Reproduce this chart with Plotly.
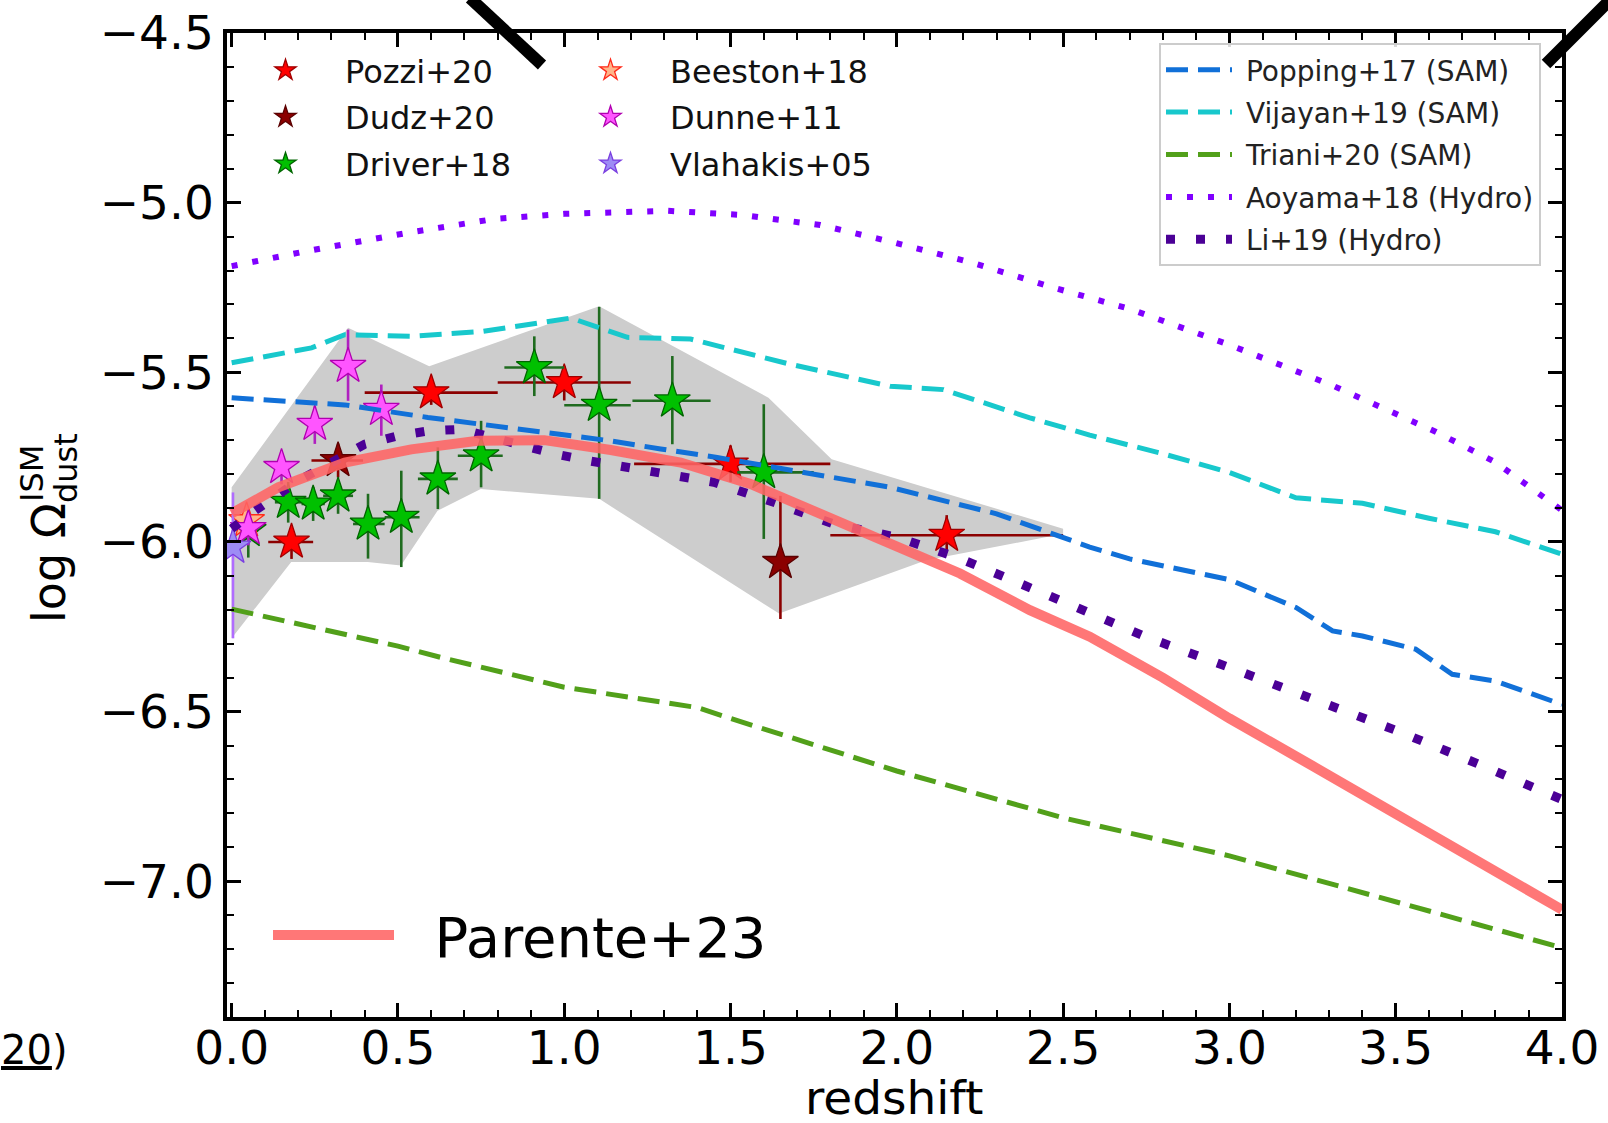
import plotly.graph_objects as go

FONT = "DejaVu Sans"

# ---------------- observational points: redshift, log Omega_dust ----------------
pozzi_z = [0.18, 0.60, 1.00, 1.50, 2.15]
pozzi_y = [-6.00, -5.56, -5.53, -5.77, -5.98]
pozzi_zlo = [0.07, 0.20, 0.20, 0.29, 0.35]
pozzi_zhi = [0.065, 0.20, 0.20, 0.30, 0.35]
pozzi_ylo = [0.05, 0.036, 0.053, 0.053, 0.049]
pozzi_yhi = [0.04, 0.036, 0.049, 0.054, 0.059]

dudz_z = [0.32, 1.65]
dudz_y = [-5.76, -6.06]
dudz_zlo = [0.08, 0.0]
dudz_zhi = [0.075, 0.0]
dudz_ylo = [0.05, 0.167]
dudz_yhi = [0.05, 0.196]

driver_z = [0.05, 0.17, 0.245, 0.32, 0.41, 0.51, 0.62, 0.75, 0.91, 1.105, 1.325, 1.60]
driver_y = [-5.966, -5.883, -5.888, -5.864, -5.947, -5.927, -5.814, -5.746, -5.486, -5.597, -5.584, -5.795]
driver_zlo = [0.03, 0.04, 0.035, 0.045, 0.045, 0.05, 0.06, 0.07, 0.09, 0.105, 0.12, 0.08]
driver_zhi = [0.03, 0.04, 0.035, 0.045, 0.05, 0.055, 0.06, 0.065, 0.09, 0.095, 0.115, 0.15]
driver_ylo = [0.08, 0.06, 0.05, 0.053, 0.102, 0.147, 0.089, 0.093, 0.084, 0.276, 0.128, 0.196]
driver_yhi = [0.05, 0.06, 0.05, 0.045, 0.089, 0.137, 0.093, 0.103, 0.092, 0.29, 0.132, 0.201]

beeston_z = [0.045]
beeston_y = [-5.937]
beeston_yerr = [0.03]

dunne_z = [0.05, 0.15, 0.25, 0.35, 0.45]
dunne_y = [-5.96, -5.78, -5.653, -5.482, -5.609]
dunne_ylo = [0.05, 0.05, 0.058, 0.102, 0.078]
dunne_yhi = [0.05, 0.05, 0.053, 0.108, 0.073]

vlahakis_z = [0.004]
vlahakis_y = [-6.015]
vlahakis_ylo = [0.269]
vlahakis_yhi = [0.161]

# shaded region (upper edge left->right, lower edge left->right)
band_up_z = [0.0, 0.35, 0.594, 1.105, 1.614, 1.804, 2.5]
band_up_y = [-5.839, -5.369, -5.482, -5.305, -5.575, -5.756, -5.961]
band_lo_z = [0.0, 0.179, 0.409, 0.509, 0.619, 0.749, 1.105, 1.646, 2.088, 2.5]
band_lo_y = [-6.284, -6.059, -6.059, -6.069, -5.908, -5.844, -5.873, -6.211, -6.054, -5.976]

# ---------------- model predictions ----------------
popping_z = [0.0, 0.34, 0.59, 0.84, 1.14, 1.29, 1.46, 1.98, 2.3, 2.58, 2.7, 3.0, 3.2, 3.31, 3.4, 3.56, 3.67, 3.8, 4.0]
popping_y = [-5.575, -5.596, -5.633, -5.663, -5.702, -5.726, -5.751, -5.839, -5.917, -6.015, -6.05, -6.111, -6.193,
             -6.262, -6.277, -6.316, -6.39, -6.41, -6.479]

vijayan_z = [0.0, 0.1, 0.24, 0.34, 0.54, 0.75, 0.95, 1.02, 1.19, 1.38, 1.67, 1.98, 2.14, 2.4, 2.58, 2.8, 3.0, 3.2,
             3.4, 3.6, 3.8, 4.0]
vijayan_y = [-5.472, -5.455, -5.428, -5.389, -5.394, -5.38, -5.35, -5.34, -5.397, -5.402, -5.474, -5.541, -5.551,
             -5.634, -5.685, -5.74, -5.795, -5.87, -5.886, -5.93, -5.97, -6.036]

triani_z = [0.0, 0.5, 0.64, 1.0, 1.4, 1.5, 2.0, 2.5, 3.0, 3.5, 4.0]
triani_y = [-6.198, -6.307, -6.343, -6.428, -6.488, -6.52, -6.675, -6.813, -6.925, -7.06, -7.196]

aoyama_z = [0.0, 0.23, 0.54, 0.79, 1.0, 1.31, 1.53, 1.77, 1.99, 2.23, 2.48, 2.7, 3.0, 3.31, 3.62, 3.8, 4.0]
aoyama_y = [-5.187, -5.142, -5.087, -5.048, -5.033, -5.024, -5.036, -5.066, -5.117, -5.178, -5.253, -5.313, -5.419,
            -5.539, -5.675, -5.765, -5.907]

li_z = [0.0, 0.07, 0.2, 0.4, 0.5, 0.59, 0.69, 0.88, 0.97, 1.07, 1.26, 1.45, 1.63, 1.81, 2.0, 2.18, 2.36, 2.54, 2.75,
        3.0, 3.25, 3.5, 3.75, 4.0]
li_y = [-5.961, -5.908, -5.82, -5.712, -5.687, -5.673, -5.668, -5.72, -5.74, -5.76, -5.79, -5.824, -5.883, -5.947,
        -5.986, -6.045, -6.118, -6.191, -6.28, -6.37, -6.46, -6.555, -6.655, -6.759]

parente_z = [0.0, 0.14, 0.34, 0.54, 0.74, 0.94, 1.14, 1.35, 1.56, 1.77, 1.98, 2.19, 2.4, 2.58, 2.8, 3.0, 3.25, 3.5,
             3.75, 4.0]
parente_y = [-5.916, -5.839, -5.766, -5.727, -5.702, -5.70, -5.729, -5.766, -5.829, -5.917, -6.005, -6.093, -6.201,
             -6.279, -6.40, -6.52, -6.66, -6.80, -6.94, -7.084]

X_RANGE = [-0.014, 4.0]
Y_RANGE = [-7.4, -4.5]

NB = "\u00a0"  # non-breaking space used to pad legend labels

fig = go.Figure()

# shaded region behind everything
fig.add_trace(go.Scatter(
    x=band_up_z + band_lo_z[::-1], y=band_up_y + band_lo_y[::-1],
    mode="lines", fill="toself", fillcolor="#cdcdcd", line=dict(width=0),
    showlegend=False, hoverinfo="skip"))


def stars(name, z, y, fill, edge, ecol, legend, ylo=None, yhi=None, zlo=None, zhi=None):
    kw = {}
    if ylo is not None:
        kw["error_y"] = dict(type="data", symmetric=False, array=yhi, arrayminus=ylo,
                             color=ecol, thickness=2.6, width=0)
    if zlo is not None:
        kw["error_x"] = dict(type="data", symmetric=False, array=zhi, arrayminus=zlo,
                             color=ecol, thickness=2.6, width=0)
    fig.add_trace(go.Scatter(
        x=z, y=y, mode="markers", name=name, legend=legend, legendgroup=name,
        marker=dict(symbol="star", size=27, color=fill, line=dict(color=edge, width=1.3)),
        **kw))


# legend column 1
stars("Pozzi+20", pozzi_z, pozzi_y, "#ff0000", "#a00000", "#8b0000", "legend",
      pozzi_ylo, pozzi_yhi, pozzi_zlo, pozzi_zhi)
stars("Dudz+20", dudz_z, dudz_y, "#8b0000", "#5a0000", "#8b0000", "legend",
      dudz_ylo, dudz_yhi, dudz_zlo, dudz_zhi)
stars("Driver+18", driver_z, driver_y, "#00c000", "#006400", "#1f6b1f", "legend",
      driver_ylo, driver_yhi, driver_zlo, driver_zhi)
# legend column 2
stars("Beeston+18", beeston_z, beeston_y, "#ffb58a", "#ff2a1a", "#ff2a1a", "legend2",
      beeston_yerr, beeston_yerr)
stars("Dunne+11", dunne_z, dunne_y, "#ff55ff", "#b000b0", "#b020c0", "legend2",
      dunne_ylo, dunne_yhi)
stars("Vlahakis+05", vlahakis_z, vlahakis_y, "#9d8cf5", "#7a3fe0", "#b06cff", "legend2",
      vlahakis_ylo, vlahakis_yhi)


def model(name, z, y, color, width, dash, legend="legend3", label=None):
    fig.add_trace(go.Scatter(
        x=z, y=y, mode="lines", name=label or name, legend=legend, legendgroup=name,
        line=dict(color=color, width=width, dash=dash)))


model("Popping+17 (SAM)", popping_z, popping_y, "#1170d8", 5, "22px,10px", label=NB + "Popping+17 (SAM)")
model("Vijayan+19 (SAM)", vijayan_z, vijayan_y, "#18c8cc", 5, "22px,10px", label=NB + "Vijayan+19 (SAM)")
model("Triani+20 (SAM)", triani_z, triani_y, "#52a01a", 5, "22px,10px", label=NB + "Triani+20 (SAM)")
model("Aoyama+18 (Hydro)", aoyama_z, aoyama_y, "#8000ff", 6, "6px,15px", label=NB + "Aoyama+18 (Hydro)")
model("Li+19 (Hydro)", li_z, li_y, "#4b0096", 9, "9px,21px", label=NB + "Li+19 (Hydro)")
model("Parente+23", parente_z, parente_y, "rgba(255,100,100,0.88)", 10, "solid", legend="legend4",
      label=NB + NB + "Parente+23")

# plot area in pixels
L, R, T, B = 227, 1562, 33, 1017
W, H = R - L, B - T


def px(xp):
    return (xp - L) / W


def py(yp):
    return (B - yp) / H


axis_common = dict(
    showline=True, linecolor="black", linewidth=3.5, mirror="allticks",
    ticks="inside", ticklen=14, tickwidth=2.5, tickcolor="black",
    showgrid=False, zeroline=False, tickformat=".1f",
    tickfont=dict(family=FONT, size=47, color="black"),
)

fig.update_xaxes(
    range=X_RANGE, tickmode="linear", tick0=0, dtick=0.5, ticklabelstandoff=-13,
    minor=dict(ticks="inside", ticklen=7, tickwidth=2, tickcolor="black", dtick=0.1, tick0=0),
    **axis_common)
fig.update_yaxes(
    range=Y_RANGE, tickmode="linear", tick0=-7.0, dtick=0.5,
    minor=dict(ticks="inside", ticklen=7, tickwidth=2, tickcolor="black", dtick=0.1, tick0=-7.0),
    **axis_common)

legend_base = dict(bgcolor="rgba(0,0,0,0)", borderwidth=0, xanchor="left", yanchor="top",
                   traceorder="grouped", itemclick=False)

fig.update_layout(
    width=1608, height=1123,
    margin=dict(l=L, r=1608 - R, t=T, b=1123 - B, autoexpand=False),
    paper_bgcolor="white", plot_bgcolor="white",
    font=dict(family=FONT, color="black"),
    showlegend=True,
    legend=dict(x=px(226), y=py(43), font=dict(family=FONT, size=32, color="#111111"),
                itemwidth=109, tracegroupgap=2, **legend_base),
    legend2=dict(x=px(551), y=py(43), font=dict(family=FONT, size=32, color="#111111"),
                 itemwidth=109, tracegroupgap=2, **legend_base),
    legend3=dict(x=px(1159), y=py(43), font=dict(family=FONT, size=28, color="#222222"),
                 itemwidth=66, tracegroupgap=3, bgcolor="rgba(255,255,255,0.85)",
                 bordercolor="#cccccc", borderwidth=2, xanchor="left", yanchor="top",
                 traceorder="grouped", itemclick=False),
    legend4=dict(x=px(268), y=py(892), font=dict(family=FONT, size=56, color="black"),
                 itemwidth=121, **legend_base),
)

# x-axis label
fig.add_annotation(xref="paper", yref="paper", x=0.5, y=py(1097), text="redshift",
                   showarrow=False, xanchor="center", yanchor="middle",
                   font=dict(family=FONT, size=47, color="black"))

# y-axis label: log Omega with stacked ISM / dust scripts
fig.add_annotation(xref="paper", yref="paper", x=px(49), y=py(563), text="log Ω",
                   textangle=-90, showarrow=False, xanchor="center", yanchor="middle",
                   font=dict(family=FONT, size=46, color="black"))
fig.add_annotation(xref="paper", yref="paper", x=px(32), y=py(474), text="ISM",
                   textangle=-90, showarrow=False, xanchor="center", yanchor="middle",
                   font=dict(family=FONT, size=32, color="black"))
fig.add_annotation(xref="paper", yref="paper", x=px(66), y=py(468), text="dust",
                   textangle=-90, showarrow=False, xanchor="center", yanchor="middle",
                   font=dict(family=FONT, size=32, color="black"))

# fragment of neighbouring caption text at the lower left
fig.add_annotation(xref="paper", yref="paper", x=px(70), y=py(1050), text="<u>20</u>)",
                   showarrow=False, xanchor="right", yanchor="middle",
                   font=dict(family=FONT, size=40, color="black"))

# connector strokes from the surrounding figure
fig.add_shape(type="line", xref="paper", yref="paper",
              x0=px(470), y0=py(-2), x1=px(542), y1=py(65),
              line=dict(color="black", width=12))
fig.add_shape(type="line", xref="paper", yref="paper",
              x0=px(1546), y0=py(64), x1=px(1612), y1=py(-2),
              line=dict(color="black", width=12))

fig.write_html("out.html")
